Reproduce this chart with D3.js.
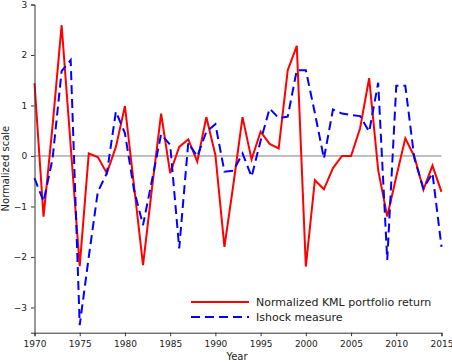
<!DOCTYPE html>
<html>
<head>
<meta charset="utf-8">
<script src="https://cdn.jsdelivr.net/npm/d3@7"></script>
<style>
  body { margin: 0; background: #fff; }
  svg { display: block; font-family: "DejaVu Sans", sans-serif; }
</style>
</head>
<body>
<svg id="chart" width="452" height="363"></svg>
<script>
const years = d3.range(1970, 2016);
const kmlReturn = [
  1.44, -1.20, 0.60, 2.59, 0.20, -2.18, 0.05, -0.02, -0.34, 0.18,
  0.99, -0.58, -2.16, -0.62, 0.84, -0.34, 0.18, 0.33, -0.11, 0.77,
  0.02, -1.80, -0.55, 0.77, -0.07, 0.48, 0.24, 0.15, 1.70, 2.18,
  -2.19, -0.48, -0.66, -0.24, 0.00, 0.00, 0.55, 1.54, -0.28, -1.20,
  -0.41, 0.35, -0.01, -0.67, -0.19, -0.71
];
const ishock = [
  -0.44, -0.90, -0.05, 1.68, 1.90, -3.35, -2.00, -0.71, -0.34, 0.88,
  0.45, -0.67, -1.37, -0.47, 0.43, 0.22, -1.83, 0.26, -0.01, 0.48,
  0.63, -0.31, -0.29, 0.05, -0.41, 0.30, 0.94, 0.75, 0.78, 1.70,
  1.70, 0.85, -0.05, 0.92, 0.84, 0.81, 0.79, 0.48, 1.45, -2.06,
  1.39, 1.39, -0.05, -0.64, -0.34, -1.80
];
const xTicks = [1970, 1975, 1980, 1985, 1990, 1995, 2000, 2005, 2010, 2015];
const yTicks = [-3, -2, -1, 0, 1, 2, 3];
const seriesNames = ["Normalized KML portfolio return", "Ishock measure"];

const svg = d3.select("#chart");
const x = d3.scaleLinear().domain([1970, 2015]).range([34.5, 441.5]);
const y = d3.scaleLinear().domain([-3.5, 3]).range([332.7, 4.5]);

// zero line
svg.append("line")
  .attr("x1", x(1970)).attr("x2", x(2015))
  .attr("y1", y(0)).attr("y2", y(0))
  .attr("stroke", "#808080").attr("stroke-width", 1);

const line = d3.line().x((d, i) => x(years[i])).y(d => y(d));

svg.append("path").datum(kmlReturn)
  .attr("d", line).attr("fill", "none")
  .attr("stroke", "#ff0000").attr("stroke-width", 2)
  .attr("stroke-linejoin", "miter");

svg.append("path").datum(ishock)
  .attr("d", line).attr("fill", "none")
  .attr("stroke", "#0000ff").attr("stroke-width", 2)
  .attr("stroke-dasharray", "9,5");

// axes
const xAxis = svg.append("g").attr("transform", `translate(0,${y(-3.5)})`)
  .call(d3.axisBottom(x).tickValues(xTicks).tickFormat(d3.format("d")).tickSizeOuter(0).tickSize(3.5));
const yAxis = svg.append("g").attr("transform", `translate(${x(1970)},0)`)
  .call(d3.axisLeft(y).tickValues(yTicks).tickFormat(d3.format("d")).tickSizeOuter(0).tickSize(3.5));
[xAxis, yAxis].forEach(g => {
  g.selectAll("path.domain").attr("stroke", "#333").attr("stroke-width", 1);
  g.selectAll(".tick line").attr("stroke", "#333");
  g.selectAll("text").attr("font-size", 9).attr("fill", "#222")
    .attr("font-family", "DejaVu Sans, sans-serif");
});
xAxis.selectAll("text").attr("dy", "0.9em");
yAxis.selectAll("text").attr("dx", "-0.1em");

svg.append("text").attr("x", 237).attr("y", 360)
  .attr("text-anchor", "middle").attr("font-size", 10).attr("fill", "#222")
  .text("Year");
svg.append("text")
  .attr("transform", `translate(9,${(y(3) + y(-3.5)) / 2}) rotate(-90)`)
  .attr("text-anchor", "middle").attr("font-size", 10).attr("fill", "#222")
  .text("Normalized scale");

// legend
const leg = svg.append("g");
const legendItems = [
  { name: seriesNames[0], color: "#ff0000", dash: null, y: 302 },
  { name: seriesNames[1], color: "#0000ff", dash: "9,5", y: 317 }
];
legendItems.forEach(it => {
  leg.append("line").attr("x1", 191).attr("x2", 249)
    .attr("y1", it.y).attr("y2", it.y)
    .attr("stroke", it.color).attr("stroke-width", 2)
    .attr("stroke-dasharray", it.dash);
  leg.append("text").attr("x", 256).attr("y", it.y + 4)
    .attr("font-size", 11).attr("fill", "#222").text(it.name);
});
</script>
</body>
</html>
